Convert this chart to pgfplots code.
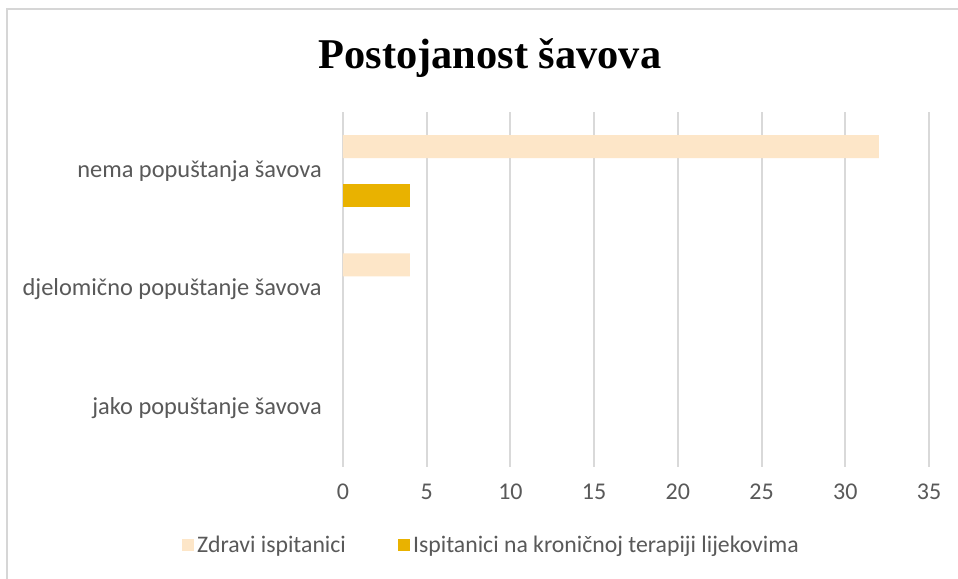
\documentclass[border=0pt]{standalone}
\usepackage{pgfplots}
\pgfplotsset{compat=1.18}
\usepackage{fontspec}
\setmainfont{Carlito}
\newfontfamily\titlefont{Liberation Serif}
\definecolor{peach}{HTML}{FDE6C8}
\definecolor{goldbar}{HTML}{E9B200}
\definecolor{gridgray}{HTML}{D9D9D9}
\definecolor{labgray}{HTML}{595959}
\definecolor{framegray}{HTML}{D6D6D6}
\begin{document}
\begin{tikzpicture}
\path[use as bounding box] (0pt,0pt) rectangle (718.5pt,434.25pt);
\fill[white] (0pt,0pt) rectangle (718.5pt,434.25pt);
\draw[framegray, line width=1.5pt] (5.6pt,0pt) -- (5.6pt,427.5pt) -- (718.5pt,427.5pt);
\node[anchor=base, inner sep=0pt] at (367.5pt,382.5pt) {\titlefont\fontsize{31.8}{36}\selectfont\bfseries Postojanost šavova};
\begin{axis}[
  at={(257.25pt,84pt)}, anchor=south west,
  scale only axis, width=439.5pt, height=266.25pt,
  xbar, bar width=17.25pt,
  xmin=0, xmax=35, ymin=-0.5, ymax=2.5,
  xtick={0,5,...,35},
  ytick={0,1,2},
  yticklabels={jako popuštanje šavova, djelomično popuštanje šavova, nema popuštanja šavova},
  /pgf/number format/assume math mode=true,
  axis line style={draw=none},
  major tick length=0pt,
  xmajorgrids, major grid style={gridgray, line width=1.5pt},
  xticklabel style={anchor=center, yshift=-18.75pt, font=\fontsize{18}{20}\selectfont, text=labgray},
  yticklabel style={anchor=east, inner sep=0pt, xshift=-15.75pt, font=\fontsize{18.3}{20}\selectfont, text=labgray},
  legend columns=2,
  legend style={at={(-0.2747,-0.2197)}, anchor=west, draw=none, fill=none, inner sep=0pt,
    font=\fontsize{17.8}{20}\selectfont, text=labgray,
    nodes={inner sep=2.2pt},
    /tikz/every even column/.append style={column sep=37pt}},
  legend cell align=left,
  x filter/.expression={x==0 ? nan : x},
  unbounded coords=discard,
]
\addplot[fill=peach, draw=none, bar shift=18.4pt,
  legend image code/.code={\fill[peach] (0pt,-4.5pt) rectangle (9pt,4.5pt);}]
  coordinates {(0,0) (4,1) (32,2)};
\addlegendentry{Zdravi ispitanici}
\addplot[fill=goldbar, draw=none, bar shift=-18.4pt,
  legend image code/.code={\fill[goldbar] (0pt,-4.5pt) rectangle (9pt,4.5pt);}]
  coordinates {(0,0) (0,1) (4,2)};
\addlegendentry{Ispitanici na kroničnoj terapiji lijekovima}
\end{axis}
\end{tikzpicture}
\end{document}
